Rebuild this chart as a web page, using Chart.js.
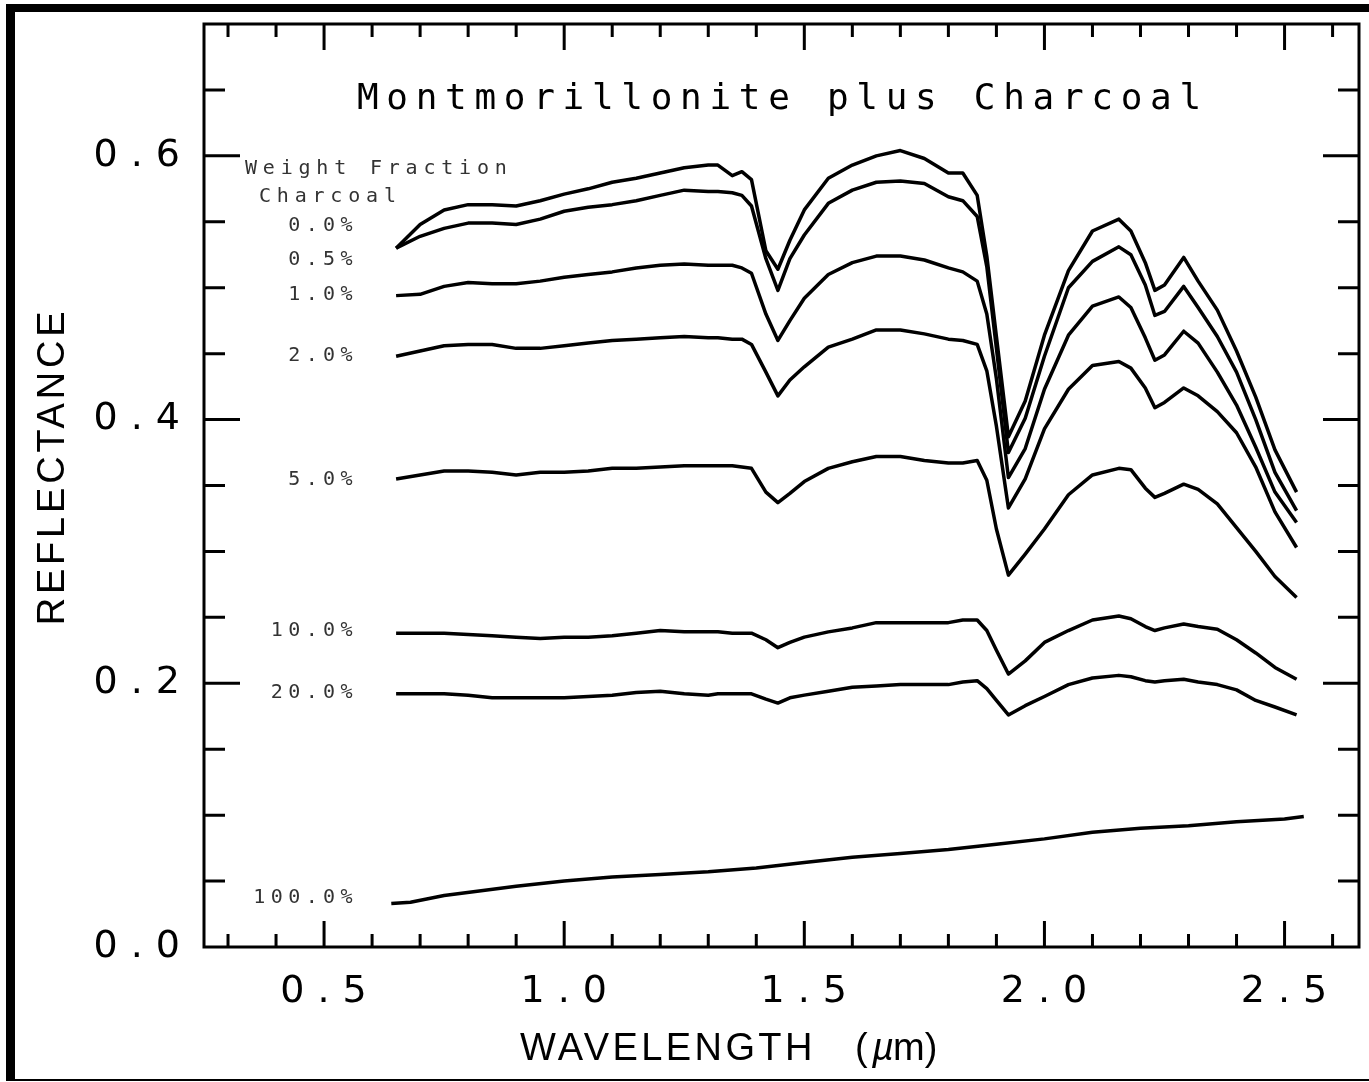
<!DOCTYPE html>
<html>
<head>
<meta charset="utf-8">
<title>Montmorillonite plus Charcoal</title>
<script src="https://cdn.jsdelivr.net/npm/chart.js@4.4.1/dist/chart.umd.min.js"></script>
<style>
  html, body { margin: 0; padding: 0; background: #fff; }
  #wrap { position: relative; width: 1369px; height: 1082px; overflow: hidden; }
  #frame {
    position: absolute; left: 6px; top: 4px; right: 0; bottom: 1px;
    border-top: 8px solid #000; border-left: 9px solid #000; border-bottom: 2px solid #000;
    pointer-events: none;
  }
  canvas { display: block; }
</style>
</head>
<body>
<div id="wrap">
  <canvas id="spectra" width="1369" height="1082"></canvas>
  <div id="frame"></div>
</div>
<script>
// wavelength grid (um) shared by the mixture spectra
const wavelengths = [0.65, 0.70, 0.75, 0.80, 0.85, 0.90, 0.95, 1.00, 1.05, 1.10,
  1.15, 1.20, 1.25, 1.30, 1.32, 1.35, 1.37, 1.39, 1.42, 1.445,
  1.47, 1.50, 1.55, 1.60, 1.65, 1.70, 1.75, 1.80, 1.83, 1.86,
  1.88, 1.90, 1.925, 1.96, 2.00, 2.05, 2.10, 2.155, 2.18, 2.21,
  2.23, 2.25, 2.29, 2.32, 2.36, 2.40, 2.44, 2.48, 2.525];

// reflectance, one array per weight fraction of charcoal
const refl0 = [0.530, 0.548, 0.559, 0.563, 0.563, 0.562, 0.566, 0.571, 0.575, 0.580,
  0.583, 0.587, 0.591, 0.593, 0.593, 0.585, 0.588, 0.582, 0.528, 0.514,
  0.536, 0.559, 0.583, 0.593, 0.600, 0.604, 0.598, 0.587, 0.587, 0.570,
  0.524, 0.463, 0.387, 0.414, 0.464, 0.513, 0.543, 0.552, 0.543, 0.519,
  0.498, 0.502, 0.523, 0.505, 0.483, 0.452, 0.417, 0.377, 0.345];
const refl05 = [0.530, 0.539, 0.545, 0.549, 0.549, 0.548, 0.552, 0.558, 0.561, 0.563,
  0.566, 0.570, 0.574, 0.573, 0.573, 0.572, 0.570, 0.562, 0.522, 0.498,
  0.522, 0.540, 0.564, 0.574, 0.580, 0.581, 0.579, 0.569, 0.566, 0.554,
  0.516, 0.454, 0.375, 0.401, 0.448, 0.500, 0.520, 0.531, 0.525, 0.502,
  0.479, 0.482, 0.501, 0.485, 0.463, 0.436, 0.400, 0.360, 0.331];
const refl1 = [0.494, 0.495, 0.501, 0.504, 0.503, 0.503, 0.505, 0.508, 0.510, 0.512,
  0.515, 0.517, 0.518, 0.517, 0.517, 0.517, 0.515, 0.511, 0.480, 0.460,
  0.475, 0.492, 0.510, 0.519, 0.524, 0.524, 0.521, 0.515, 0.512, 0.505,
  0.480, 0.431, 0.356, 0.378, 0.423, 0.464, 0.486, 0.493, 0.485, 0.462,
  0.445, 0.449, 0.467, 0.458, 0.436, 0.411, 0.379, 0.345, 0.322];
const refl2 = [0.448, 0.452, 0.456, 0.457, 0.457, 0.454, 0.454, 0.456, 0.458, 0.460,
  0.461, 0.462, 0.463, 0.462, 0.462, 0.461, 0.461, 0.457, 0.436, 0.418,
  0.430, 0.440, 0.455, 0.461, 0.468, 0.468, 0.465, 0.461, 0.460, 0.457,
  0.437, 0.395, 0.333, 0.355, 0.393, 0.423, 0.441, 0.444, 0.439, 0.424,
  0.409, 0.413, 0.424, 0.418, 0.406, 0.390, 0.364, 0.330, 0.303];
const refl5 = [0.355, 0.358, 0.361, 0.361, 0.360, 0.358, 0.360, 0.360, 0.361, 0.363,
  0.363, 0.364, 0.365, 0.365, 0.365, 0.365, 0.364, 0.363, 0.345, 0.337,
  0.344, 0.353, 0.363, 0.368, 0.372, 0.372, 0.369, 0.367, 0.367, 0.369,
  0.354, 0.317, 0.282, 0.298, 0.317, 0.343, 0.358, 0.363, 0.362, 0.348,
  0.341, 0.344, 0.351, 0.347, 0.336, 0.318, 0.300, 0.281, 0.265];
const refl10 = [0.238, 0.238, 0.238, 0.237, 0.236, 0.235, 0.234, 0.235, 0.235, 0.236,
  0.238, 0.240, 0.239, 0.239, 0.239, 0.238, 0.238, 0.238, 0.233, 0.227,
  0.231, 0.235, 0.239, 0.242, 0.246, 0.246, 0.246, 0.246, 0.248, 0.248,
  0.240, 0.225, 0.207, 0.217, 0.231, 0.240, 0.248, 0.251, 0.249, 0.243,
  0.240, 0.242, 0.245, 0.243, 0.241, 0.233, 0.223, 0.212, 0.203];
const refl20 = [0.192, 0.192, 0.192, 0.191, 0.189, 0.189, 0.189, 0.189, 0.190, 0.191,
  0.193, 0.194, 0.192, 0.191, 0.192, 0.192, 0.192, 0.192, 0.188, 0.185,
  0.189, 0.191, 0.194, 0.197, 0.198, 0.199, 0.199, 0.199, 0.201, 0.202,
  0.196, 0.187, 0.176, 0.183, 0.190, 0.199, 0.204, 0.206, 0.205, 0.202,
  0.201, 0.202, 0.203, 0.201, 0.199, 0.195, 0.187, 0.182, 0.176];

// pure charcoal was measured on its own grid
const charcoalWavelengths = [0.64, 0.68, 0.75, 0.90, 1.00, 1.10, 1.20, 1.30, 1.40, 1.50,
  1.60, 1.70, 1.80, 1.90, 2.00, 2.10, 2.20, 2.30, 2.40, 2.50, 2.54];
const refl100 = [0.033, 0.034, 0.039, 0.046, 0.050, 0.053, 0.055, 0.057, 0.060, 0.064,
  0.068, 0.071, 0.074, 0.078, 0.082, 0.087, 0.090, 0.092, 0.095, 0.097, 0.099];

const fractionLabels = ['0.0%', '0.5%', '1.0%', '2.0%', '5.0%', '10.0%', '20.0%', '100.0%'];
const xTickLabels = ['0.5', '1.0', '1.5', '2.0', '2.5'];
const yTickLabels = ['0.0', '0.2', '0.4', '0.6'];

// where each fraction label sits (reflectance of its text centre)
const labelLevels = [0.547, 0.521, 0.495, 0.448, 0.354, 0.240, 0.193, 0.037];

function toPoints(xs, ys) {
  return xs.map((x, i) => ({ x: x, y: ys[i] }));
}

const series = [refl0, refl05, refl1, refl2, refl5, refl10, refl20];
const datasets = series.map((ys, i) => ({
  label: fractionLabels[i],
  data: toPoints(wavelengths, ys)
}));
datasets.push({ label: fractionLabels[7], data: toPoints(charcoalWavelengths, refl100) });

function drawSpaced(ctx, text, x, y, font, spacing, align) {
  ctx.font = font;
  ctx.letterSpacing = spacing + 'px';
  ctx.textAlign = align || 'left';
  ctx.fillText(text, x, y);
}

// plot box, inward tick marks and the annotation text
const plotFrame = {
  id: 'plotFrame',
  beforeDraw(chart) {
    chart.ctx.letterSpacing = '13px';
  },
  afterDraw(chart) {
    const ctx = chart.ctx;
    const a = chart.chartArea;
    const x = chart.scales.x;
    const y = chart.scales.y;
    ctx.save();
    ctx.letterSpacing = '0px';
    ctx.strokeStyle = '#000';
    ctx.lineWidth = 3;
    ctx.strokeRect(a.left, a.top, a.right - a.left, a.bottom - a.top);
    ctx.beginPath();
    for (let i = 3; i <= 26; i++) {
      const px = x.getPixelForValue(i / 10);
      const len = i % 5 === 0 ? 26 : 13;
      ctx.moveTo(px, a.bottom); ctx.lineTo(px, a.bottom - len);
      ctx.moveTo(px, a.top); ctx.lineTo(px, a.top + len);
    }
    for (let j = 1; j <= 13; j++) {
      const py = y.getPixelForValue(j * 0.05);
      const len = j % 4 === 0 ? 36 : 21;
      ctx.moveTo(a.left, py); ctx.lineTo(a.left + len, py);
      ctx.moveTo(a.right, py); ctx.lineTo(a.right - len, py);
    }
    ctx.stroke();

    ctx.fillStyle = '#000';
    ctx.textBaseline = 'alphabetic';
    drawSpaced(ctx, 'Montmorillonite plus Charcoal', a.left + 153, a.top + 85,
      '36px "DejaVu Sans Mono"', 7.7, 'left');

    // axis titles
    const titleFont = '38px "Liberation Sans"';
    const bx = a.left + 316, by = a.bottom + 113;
    drawSpaced(ctx, 'WAVELENGTH', bx, by, titleFont, 3.4, 'left');
    drawSpaced(ctx, '(', bx + 335, by, titleFont, 0, 'left');
    drawSpaced(ctx, '\u00b5', bx + 352, by, 'italic ' + titleFont, 0, 'left');
    drawSpaced(ctx, 'm)', bx + 373, by, titleFont, 0, 'left');
    ctx.save();
    ctx.translate(64, (a.top + a.bottom) / 2 - 19);
    ctx.rotate(-Math.PI / 2);
    drawSpaced(ctx, 'REFLECTANCE', 0, 0, titleFont, 3.8, 'center');
    ctx.restore();

    // weight fraction labels
    ctx.fillStyle = '#333';
    ctx.textBaseline = 'middle';
    const small = '20px "DejaVu Sans Mono"';
    drawSpaced(ctx, 'Weight Fraction', a.left + 41, y.getPixelForValue(0.590), small, 5.8, 'left');
    drawSpaced(ctx, 'Charcoal', a.left + 55, y.getPixelForValue(0.569), small, 5.8, 'left');
    fractionLabels.forEach((t, i) => {
      drawSpaced(ctx, t, a.left + 154, y.getPixelForValue(labelLevels[i]), small, 5.4, 'right');
    });
    ctx.restore();
  }
};

Chart.defaults.font.family = '"DejaVu Sans", sans-serif';
Chart.defaults.color = '#000';

const ctx = document.getElementById('spectra').getContext('2d');
const chart = new Chart(ctx, {
  type: 'line',
  data: { datasets: datasets },
  options: {
    responsive: false,
    animation: false,
    events: [],
    layout: { padding: { left: 0, right: 10, top: 24, bottom: 0 } },
    elements: {
      line: { borderColor: '#000', borderWidth: 3.5, tension: 0, fill: false, borderJoinStyle: 'round' },
      point: { radius: 0 }
    },
    plugins: {
      legend: { display: false },
      tooltip: { enabled: false },
      title: { display: false }
    },
    scales: {
      x: {
        type: 'linear',
        min: 0.25,
        max: 2.655,
        afterBuildTicks: s => { s.ticks = xTickLabels.map(v => ({ value: parseFloat(v) })); },
        afterFit: s => { s.height = 135; s.paddingLeft = 0; s.paddingRight = 0; },
        grid: { drawOnChartArea: false, drawTicks: false },
        border: { display: false },
        ticks: {
          autoSkip: false,
          maxRotation: 0,
          padding: 22,
          labelOffset: 6,
          font: { size: 38 },
          callback: v => v.toFixed(1)
        }
      },
      y: {
        min: 0,
        max: 0.7,
        afterBuildTicks: s => { s.ticks = yTickLabels.map(v => ({ value: parseFloat(v) })); },
        afterFit: s => { s.width = 204; s.paddingTop = 0; s.paddingBottom = 0; },
        grid: { drawOnChartArea: false, drawTicks: false },
        border: { display: false },
        ticks: {
          padding: 11,
          font: { size: 38 },
          callback: v => v.toFixed(1)
        }
      }
    }
  },
  plugins: [plotFrame]
});
</script>
</body>
</html>
